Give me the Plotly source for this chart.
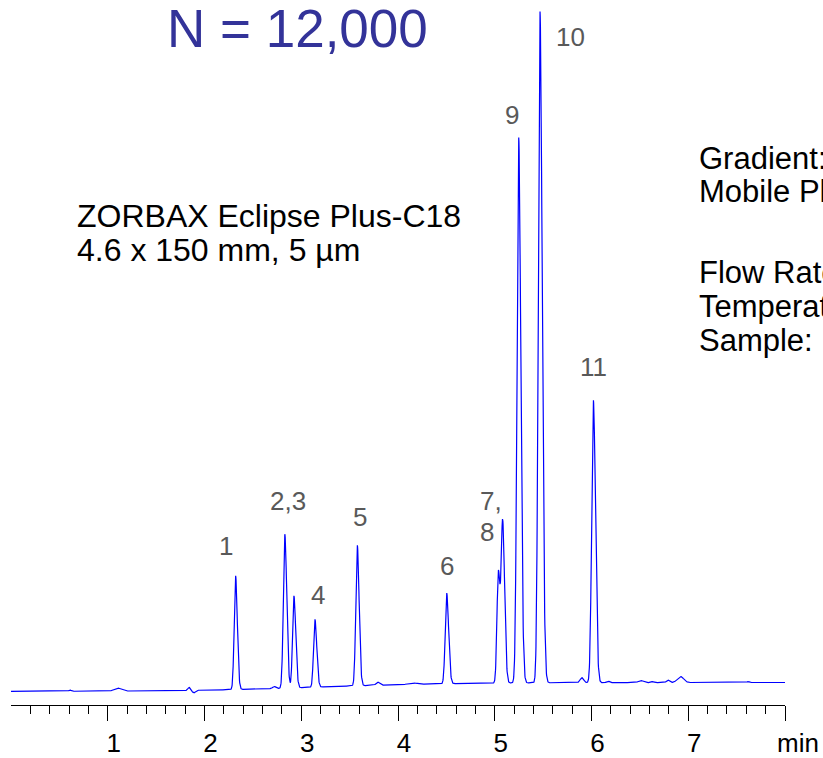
import numpy as np
import plotly.graph_objects as go

# ---- Peak table: retention time (min), height above baseline, leading / trailing sigma (min)
peak_rt = [2.321, 2.830, 2.924, 3.141, 3.579, 4.503, 5.037, 5.082, 5.247, 5.467, 6.019]
peak_height = [113.8, 153.9, 92.0, 67.9, 140.8, 90.7, 111.0, 159.0, 546.0, 672.0, 282.6]
peak_sigma_lead = [0.014, 0.015, 0.014, 0.014, 0.015, 0.015, 0.014, 0.015, 0.017, 0.017, 0.017]
peak_sigma_tail = [0.018, 0.020, 0.019, 0.019, 0.019, 0.020, 0.018, 0.020, 0.022, 0.023, 0.022]

# ---- Small baseline disturbances (negative height = dip)
minor_rt = [0.61, 1.10, 1.84, 1.89, 2.72, 3.79, 4.15, 5.90, 6.17, 6.51, 6.63, 6.79, 6.92, 7.62]
minor_height = [1.2, 3.0, 3.0, -2.5, 2.0, 3.0, 1.5, 5.0, 1.5, 2.0, 1.0, 2.5, 6.0, 1.0]
minor_sigma = [0.012, 0.035, 0.012, 0.015, 0.015, 0.018, 0.040, 0.018, 0.015, 0.025, 0.015, 0.015, 0.032, 0.010]

# ---- Gradient baseline drift
drift_total = 9.0
drift_mid = 3.2
drift_width = 0.7

# ---- Peak labels
label_text = ["1", "2,3", "4", "5", "6", "7,", "8", "9", "10", "11"]
label_x = [2.227, 2.862, 3.172, 3.603, 4.503, 4.826, 4.826, 5.182, 5.785, 6.019]
label_y = [145.5, 190.8, 96.5, 174.2, 125.5, 190.8, 159.8, 576.5, 655.0, 324.5]
label_anchor = ["center", "center", "center", "center", "center", "left", "left", "center", "center", "center"]

# ---- Axis
time_range = [0.0, 8.0]
major_ticks = [1, 2, 3, 4, 5, 6, 7, 8]
major_text = ["1", "2", "3", "4", "5", "6", "7", ""]
minor_ticks = [round(0.2 * i, 1) for i in range(1, 40) if i % 5 != 0]
response_range = [-13.5, 691.5]

# ---- Text blocks
title_text = "N = 12,000"
column_lines = ["ZORBAX Eclipse Plus-C18", "4.6 x 150 mm, 5 µm"]
condition_lines = ["Gradient:", "Mobile Phase:", "Flow Rate:", "Temperature:", "Sample:"]

FONT = "Liberation Sans, Arial, sans-serif"
W, H = 823, 758
ML, MR, MT, MB = 11, 38, 0, 53


def px_x(px):
    return (px - ML) / (W - ML - MR)


def px_y(py):
    return (H - MB - py) / (H - MT - MB)


def bigauss(t, rt, h, s_lead, s_tail):
    s = np.where(t < rt, s_lead, s_tail)
    return h * np.exp(-0.5 * ((t - rt) / s) ** 2)


t = np.linspace(time_range[0], time_range[1], 4001)
signal = drift_total / (1.0 + np.exp(-(t - drift_mid) / drift_width))
for rt, h, sl, st in zip(peak_rt, peak_height, peak_sigma_lead, peak_sigma_tail):
    signal = signal + bigauss(t, rt, h, sl, st)
for rt, h, s in zip(minor_rt, minor_height, minor_sigma):
    signal = signal + h * np.exp(-0.5 * ((t - rt) / s) ** 2)

fig = go.Figure()
fig.add_trace(go.Scatter(
    x=t, y=signal, mode="lines",
    line=dict(color="#0000ff", width=1.2),
    hoverinfo="skip", showlegend=False,
))

annotations = []
for txt, x, y, anc in zip(label_text, label_x, label_y, label_anchor):
    annotations.append(dict(
        x=x, y=y, xref="x", yref="y", text=txt, showarrow=False,
        xanchor=anc, yanchor="middle",
        font=dict(family=FONT, size=26, color="#595959"),
    ))

annotations.append(dict(
    x=px_x(297.5), y=px_y(29), xref="paper", yref="paper", text=title_text,
    showarrow=False, xanchor="center", yanchor="middle",
    font=dict(family=FONT, size=53, color="#333399"),
))

for i, line in enumerate(column_lines):
    annotations.append(dict(
        x=px_x(75), y=px_y(216 + 33.5 * i), xref="paper", yref="paper", text=line,
        showarrow=False, xanchor="left", yanchor="middle",
        font=dict(family=FONT, size=32, color="#000000"),
    ))

condition_y = [158, 192, 272, 306, 340]
for line, py in zip(condition_lines, condition_y):
    annotations.append(dict(
        x=px_x(697), y=px_y(py), xref="paper", yref="paper", text=line,
        showarrow=False, xanchor="left", yanchor="middle",
        font=dict(family=FONT, size=31, color="#000000"),
    ))

annotations.append(dict(
    x=time_range[1], y=px_y(743), xref="x", yref="paper", text="min",
    showarrow=False, xanchor="center", yanchor="middle", xshift=13,
    font=dict(family=FONT, size=26, color="#000000"),
))

fig.update_layout(
    width=W, height=H,
    margin=dict(l=ML, r=MR, t=MT, b=MB, pad=0),
    paper_bgcolor="white", plot_bgcolor="white",
    showlegend=False,
    annotations=annotations,
    xaxis=dict(
        range=time_range, showgrid=False, zeroline=False,
        showline=True, linecolor="black", linewidth=1,
        ticks="outside", ticklen=15, tickwidth=1, tickcolor="black",
        tickmode="array", tickvals=major_ticks, ticktext=major_text,
        ticklabelshift=6,
        tickfont=dict(family=FONT, size=26, color="black"),
        minor=dict(ticks="outside", ticklen=8, tickwidth=1, tickcolor="black",
                   tickmode="array", tickvals=minor_ticks, showgrid=False),
    ),
    yaxis=dict(range=response_range, visible=False, showgrid=False, zeroline=False),
)

fig.write_html("out.html")
